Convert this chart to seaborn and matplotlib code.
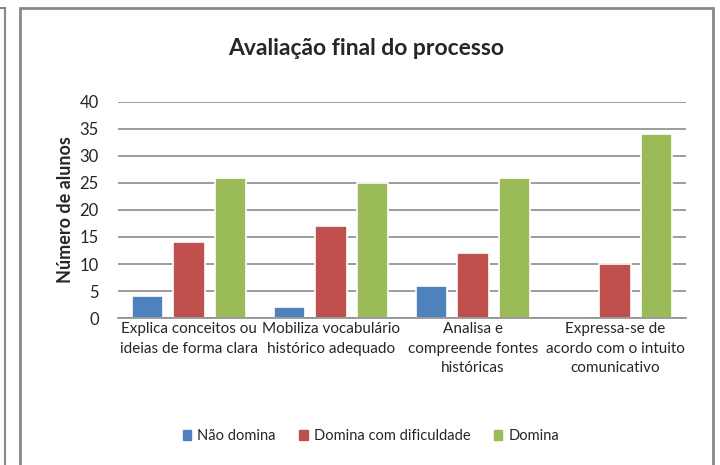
import matplotlib.pyplot as plt
import matplotlib.patches as mpatches
import seaborn as sns
import pandas as pd

# data
categorias = ["Explica conceitos ou\nideias de forma clara",
              "Mobiliza vocabulário\nhistórico adequado",
              "Analisa e\ncompreende fontes\nhistóricas",
              "Expressa-se de\nacordo com o intuito\ncomunicativo"]
niveis = ["Não domina", "Domina com dificuldade", "Domina"]
nao_domina = [4, 2, 6, 0]
com_dificuldade = [14, 17, 12, 10]
domina = [26, 25, 26, 34]
cores = ["#4F81BD", "#C0504D", "#9BBB59"]

df = pd.DataFrame({
    "categoria": categorias * 3,
    "nivel": [n for n in niveis for _ in categorias],
    "alunos": nao_domina + com_dificuldade + domina,
})

sns.set_theme(style="white")
plt.rcParams['font.family'] = ['Lato', 'DejaVu Sans']

fig = plt.figure(figsize=(7.2, 4.65), dpi=100)
ax = fig.add_axes([0.164, 0.316, 0.789, 0.465])

sns.barplot(data=df, x="categoria", y="alunos", hue="nivel", order=categorias,
            hue_order=niveis, palette=cores, width=0.877, gap=0.24,
            edgecolor="white", linewidth=1.2, saturation=1, legend=False, ax=ax)

ax.set_ylim(0, 40)
ax.set_yticks(range(0, 41, 5))
ax.yaxis.grid(True, color="#8c8c8c", linewidth=1.2)
ax.set_axisbelow(True)
ax.set_xlim(-0.5, 3.5)
for s in ["top", "right", "left"]:
    ax.spines[s].set_visible(False)
ax.spines["bottom"].set_color("#8c8c8c")
ax.spines["bottom"].set_linewidth(1.2)

ax.set_xlabel("")
ax.set_ylabel("Número de alunos", fontsize=13, fontweight="bold", labelpad=4)
ax.tick_params(axis="y", labelsize=12, length=0, pad=14)
ax.tick_params(axis="x", labelsize=11, length=0, pad=3)
ax.set_xticks(range(len(categorias)))
ax.set_xticklabels(categorias, linespacing=1.5)
ax.set_xticks([-0.5, 0.5, 1.5, 2.5, 3.5], minor=True)
ax.tick_params(axis="x", which="minor", length=4, color="#8c8c8c", width=1)

fig.text(0.508, 0.895, "Avaliação final do processo", ha="center", va="center",
         fontsize=16.5, fontweight="bold")

handles = [mpatches.Patch(color=c, label=n) for c, n in zip(cores, niveis)]
fig.legend(handles=handles, loc="center", bbox_to_anchor=(0.515, 0.062), ncol=3,
           frameon=False, fontsize=10.5, handlelength=0.6, handleheight=0.6,
           handletextpad=0.4, columnspacing=1.6)

# chart frame
fig.patches.append(mpatches.Rectangle((20 / 720, -0.01), 693 / 720, 0.993,
                                      transform=fig.transFigure, fill=False,
                                      edgecolor="#888888", linewidth=2))
fig.patches.append(mpatches.Rectangle((-0.01, -0.01), 0.017, 0.993,
                                      transform=fig.transFigure, fill=False,
                                      edgecolor="#888888", linewidth=1.5))

fig.savefig("out.png", dpi=100)
